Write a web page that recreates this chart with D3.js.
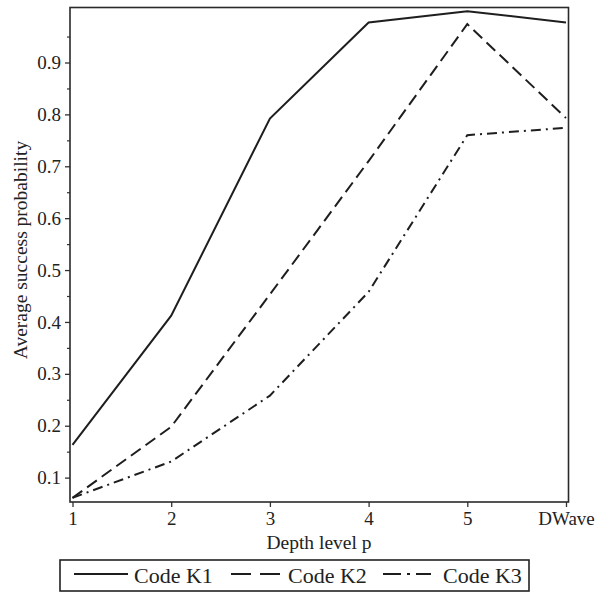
<!DOCTYPE html>
<html>
<head>
<meta charset="utf-8">
<script src="https://cdn.jsdelivr.net/npm/d3@7"></script>
<style>
  body { margin: 0; background: #fff; }
  svg text { font-family: "Liberation Serif", "Times New Roman", Times, "DejaVu Serif", serif !important; }
</style>
</head>
<body>
<div id="chart"></div>
<script>
// 데이터
const depthLevels = ["1", "2", "3", "4", "5", "DWave"];
const codeK1 = [0.163, 0.412, 0.792, 0.977, 0.999, 0.977];
const codeK2 = [0.061, 0.198, 0.453, 0.71, 0.974, 0.793];
const codeK3 = [0.061, 0.131, 0.258, 0.458, 0.76, 0.774];
const yTicks = [0.1, 0.2, 0.3, 0.4, 0.5, 0.6, 0.7, 0.8, 0.9];
const yMinorTicks = [0.15, 0.25, 0.35, 0.45, 0.55, 0.65, 0.75, 0.85, 0.95];

const series = [
    {name: "Code K1", values: codeK1, dash: null, legendDash: null},
    {name: "Code K2", values: codeK2, dash: "12,6", legendDash: "20,9"},
    {name: "Code K3", values: codeK3, dash: "10,5,2,5", legendDash: "18,6,3,6"}
];

const W = 595, H = 592;
const plotLeft = 70, plotRight = 568.5, plotTop = 7.5, plotBottom = 502;

const svg = d3.select("#chart").append("svg")
    .attr("width", W)
    .attr("height", H)
    .style("display", "block");

const x = d3.scalePoint().domain(depthLevels).range([72.5, 566]);
const y = d3.scaleLinear().domain([0.053, 1.006]).range([plotBottom, plotTop]);

// 축
const xAxis = svg.append("g")
    .attr("transform", `translate(0,${plotBottom})`)
    .attr("font-family", null)
    .call(d3.axisBottom(x).tickSize(5).tickPadding(5));
xAxis.select(".domain").remove();
xAxis.selectAll("line").attr("stroke", "#333").attr("stroke-width", 1.3);
xAxis.selectAll("text").style("font-size", "19px").attr("fill", "#222");

const yAxis = svg.append("g")
    .attr("transform", `translate(${plotLeft},0)`)
    .call(d3.axisLeft(y).tickValues(yTicks).tickFormat(d3.format(".1f")).tickSize(5).tickPadding(4));
yAxis.select(".domain").remove();
yAxis.selectAll("line").attr("stroke", "#333").attr("stroke-width", 1.3);
yAxis.selectAll("text").style("font-size", "19px").attr("fill", "#222");

const yMinor = svg.append("g")
    .attr("transform", `translate(${plotLeft},0)`)
    .call(d3.axisLeft(y).tickValues(yMinorTicks).tickFormat("").tickSize(3));
yMinor.select(".domain").remove();
yMinor.selectAll("line").attr("stroke", "#333").attr("stroke-width", 1.2);

// 테두리
svg.append("rect")
    .attr("x", plotLeft)
    .attr("y", plotTop)
    .attr("width", plotRight - plotLeft)
    .attr("height", plotBottom - plotTop)
    .attr("fill", "none")
    .attr("stroke", "#2a2a2a")
    .attr("stroke-width", 1.6);

// 선
const line = d3.line()
    .x((d, i) => x(depthLevels[i]))
    .y(d => y(d));

svg.selectAll(".series")
    .data(series)
    .enter().append("path")
        .attr("class", "series")
        .attr("d", d => line(d.values))
        .attr("fill", "none")
        .attr("stroke", "#1e1e1e")
        .attr("stroke-width", 2)
        .attr("stroke-dasharray", d => d.dash);

// 축 제목
svg.append("text")
    .attr("x", 319)
    .attr("y", 549)
    .attr("text-anchor", "middle")
    .style("font-size", "19.5px")
    .attr("fill", "#222")
    .text("Depth level p");

svg.append("text")
    .attr("transform", "translate(27,250) rotate(-90)")
    .attr("text-anchor", "middle")
    .style("font-size", "19.5px")
    .attr("fill", "#222")
    .text("Average success probability");

// 범례
svg.append("rect")
    .attr("x", 60)
    .attr("y", 560)
    .attr("width", 469)
    .attr("height", 31)
    .attr("fill", "#fff")
    .attr("stroke", "#222")
    .attr("stroke-width", 1.6);

const legendX = [[74, 128, 134], [231, 280, 288], [383, 431, 443]];
const legend = svg.selectAll(".legend")
    .data(series)
    .enter().append("g")
        .attr("class", "legend");

legend.append("line")
    .attr("x1", (d, i) => legendX[i][0])
    .attr("x2", (d, i) => legendX[i][1])
    .attr("y1", 574)
    .attr("y2", 574)
    .attr("stroke", "#1e1e1e")
    .attr("stroke-width", 2.2)
    .attr("stroke-dasharray", d => d.legendDash);

legend.append("text")
    .attr("x", (d, i) => legendX[i][2])
    .attr("y", 583)
    .style("font-size", "22px")
    .attr("fill", "#222")
    .text(d => d.name);
</script>
</body>
</html>
